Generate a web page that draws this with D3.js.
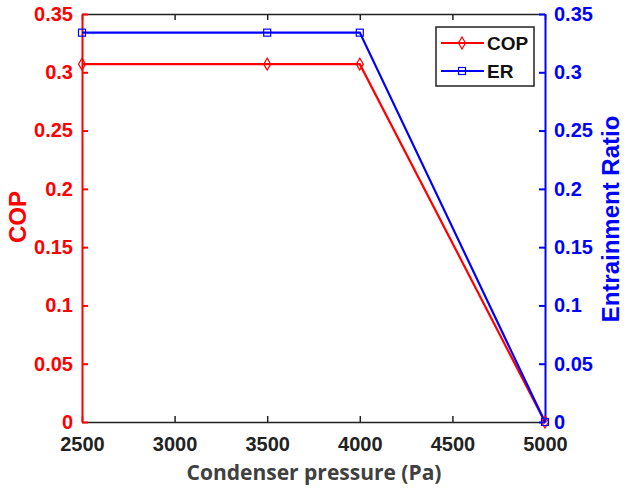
<!DOCTYPE html>
<html>
<head>
<meta charset="utf-8">
<script src="https://cdn.jsdelivr.net/npm/d3@7"></script>
<style>
  body { margin: 0; background: #fff; }
  svg { display: block; }
  .tick text { font-family: "Liberation Sans", Arial, sans-serif; font-weight: bold; }
</style>
</head>
<body>
<div id="wrap"></div>
<script>
var w = 625;
var h = 490;
var margin = {left: 82, right: 80, top: 14, bottom: 68};

var pressure = [2500, 3500, 4000, 5000];
var cop = [0.307, 0.307, 0.307, 0];
var er = [0.334, 0.334, 0.334, 0];
var xTicks = [2500, 3000, 3500, 4000, 4500, 5000];
var yTicks = [0, 0.05, 0.1, 0.15, 0.2, 0.25, 0.3, 0.35];

var red = "#ff0000";
var blue = "#0000ff";

var svg = d3.select("#wrap").append("svg").attr("width", w).attr("height", h);

var x = d3.scaleLinear().domain([2500, 5000]).range([margin.left, w - margin.right]);
var yL = d3.scaleLinear().domain([0, 0.35]).range([h - margin.bottom, margin.top]);
var yR = d3.scaleLinear().domain([0, 0.35]).range([h - margin.bottom, margin.top]);

var fmt = function(d) { return d === 0 ? "0" : String(+d.toFixed(2)); };

// bottom axis
var gx = svg.append("g").attr("transform", "translate(0," + (h - margin.bottom) + ")")
  .call(d3.axisBottom(x).tickValues(xTicks).tickFormat(d3.format("d")).tickSizeInner(-6).tickSizeOuter(0).tickPadding(15));
gx.selectAll("path,line").attr("stroke", "#222").attr("stroke-width", 1.5);
gx.selectAll("text").attr("font-size", 20).attr("fill", "#222");

// top axis (ticks only)
var gt = svg.append("g").attr("transform", "translate(0," + margin.top + ")")
  .call(d3.axisTop(x).tickValues(xTicks).tickSizeInner(-6).tickSizeOuter(0).tickFormat(""));
gt.selectAll("path,line").attr("stroke", "#222").attr("stroke-width", 1.5);

// left axis
var gl = svg.append("g").attr("transform", "translate(" + margin.left + ",0)")
  .call(d3.axisLeft(yL).tickValues(yTicks).tickFormat(fmt).tickSizeInner(-6).tickSizeOuter(0).tickPadding(9));
gl.selectAll("path,line").attr("stroke", red).attr("stroke-width", 2);
gl.selectAll("text").attr("font-size", 20).attr("fill", red);

// right axis
var gr = svg.append("g").attr("transform", "translate(" + (w - margin.right) + ",0)")
  .call(d3.axisRight(yR).tickValues(yTicks).tickFormat(fmt).tickSizeInner(-6).tickSizeOuter(0).tickPadding(9));
gr.selectAll("path,line").attr("stroke", blue).attr("stroke-width", 2);
gr.selectAll("text").attr("font-size", 20).attr("fill", blue);

// lines
var lineCop = d3.line().x(function(d, i) { return x(pressure[i]); }).y(function(d) { return yL(d); });
var lineEr = d3.line().x(function(d, i) { return x(pressure[i]); }).y(function(d) { return yR(d); });

svg.append("path").datum(cop).attr("d", lineCop)
  .attr("fill", "none").attr("stroke", red).attr("stroke-width", 2.2);
svg.append("path").datum(er).attr("d", lineEr)
  .attr("fill", "none").attr("stroke", blue).attr("stroke-width", 2.2);

// markers
svg.selectAll(".dia").data(cop).enter().append("path")
  .attr("d", "M0,-6L3.5,0L0,6L-3.5,0Z")
  .attr("transform", function(d, i) { return "translate(" + x(pressure[i]) + "," + yL(d) + ")"; })
  .attr("fill", "none").attr("stroke", red).attr("stroke-width", 1.2);

svg.selectAll(".sq").data(er).enter().append("rect")
  .attr("x", function(d, i) { return x(pressure[i]) - 3.5; })
  .attr("y", function(d) { return yR(d) - 3.5; })
  .attr("width", 7).attr("height", 7)
  .attr("fill", "none").attr("stroke", blue).attr("stroke-width", 1.2);

// axis titles
svg.append("text")
  .attr("x", 314).attr("y", 480)
  .attr("text-anchor", "middle")
  .attr("font-family", "'Open Sans', sans-serif").attr("font-weight", "bold")
  .attr("font-size", 21).attr("fill", "#404040")
  .text("Condenser pressure (Pa)");

svg.append("text")
  .attr("transform", "translate(26,217) rotate(-90)")
  .attr("text-anchor", "middle")
  .attr("font-family", "'Liberation Sans', Arial, sans-serif").attr("font-weight", "bold")
  .attr("font-size", 24).attr("fill", red)
  .text("COP");

svg.append("text")
  .attr("transform", "translate(619,219) rotate(-90)")
  .attr("text-anchor", "middle")
  .attr("font-family", "'Liberation Sans', Arial, sans-serif").attr("font-weight", "bold")
  .attr("font-size", 24).attr("fill", blue)
  .text("Entrainment Ratio");

// legend
var leg = svg.append("g").attr("transform", "translate(436,27)");
leg.append("rect").attr("width", 98).attr("height", 59)
  .attr("fill", "#fff").attr("stroke", "#222").attr("stroke-width", 1.5);

var items = [
  {name: "COP", color: red, marker: "dia"},
  {name: "ER", color: blue, marker: "sq"}
];
items.forEach(function(it, i) {
  var yy = 16 + i * 28;
  leg.append("line").attr("x1", 5).attr("x2", 48).attr("y1", yy).attr("y2", yy)
    .attr("stroke", it.color).attr("stroke-width", 2);
  if (it.marker === "dia") {
    leg.append("path").attr("d", "M0,-6L3.5,0L0,6L-3.5,0Z")
      .attr("transform", "translate(26," + yy + ")")
      .attr("fill", "none").attr("stroke", it.color).attr("stroke-width", 1.2);
  } else {
    leg.append("rect").attr("x", 22.5).attr("y", yy - 3.5).attr("width", 7).attr("height", 7)
      .attr("fill", "none").attr("stroke", it.color).attr("stroke-width", 1.2);
  }
  leg.append("text").attr("x", 51).attr("y", yy + 7)
    .attr("font-family", "'Liberation Sans', Arial, sans-serif").attr("font-weight", "bold")
    .attr("font-size", 19).attr("fill", "#111")
    .text(it.name);
});
</script>
</body>
</html>
